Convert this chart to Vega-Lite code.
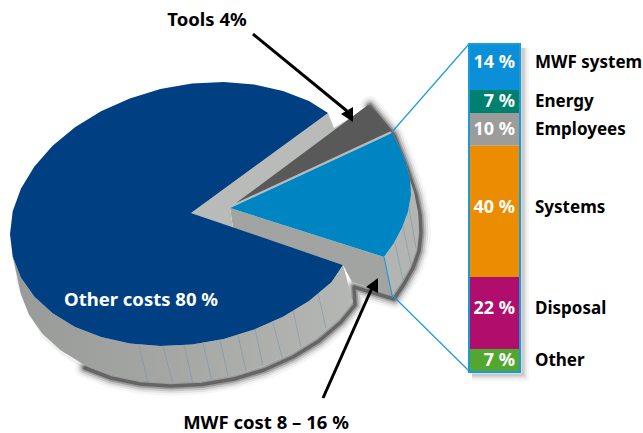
{
"$schema":"https://vega.github.io/schema/vega-lite/v6.json",
"width":643,"height":433,"padding":0,"autosize":{"type":"fit","contains":"padding"},
"background":"white","view":{"stroke":null},
"datasets":{
"shadow":[{"o":0,"x":85,"y":368},{"o":1,"x":111,"y":378},{"o":2,"x":140,"y":384},{"o":3,"x":170,"y":386},{"o":4,"x":202,"y":384.5},{"o":5,"x":234,"y":379},{"o":6,"x":264,"y":370},{"o":7,"x":293,"y":357},{"o":8,"x":319,"y":341},{"o":9,"x":341,"y":322},{"o":10,"x":355,"y":305},{"o":11,"x":354,"y":287},{"o":12,"x":394,"y":299},{"o":13,"x":404,"y":284},{"o":14,"x":413,"y":268},{"o":15,"x":419,"y":251},{"o":16,"x":421,"y":233},{"o":17,"x":420,"y":215},{"o":18,"x":416,"y":195},{"o":19,"x":407,"y":168},{"o":20,"x":394,"y":135},{"o":21,"x":370,"y":106}],
"softshadow":[{"o":0,"x":18,"y":280},{"o":1,"x":28,"y":306},{"o":2,"x":44,"y":336},{"o":3,"x":63,"y":353},{"o":4,"x":85,"y":367}],
"barshadow":[{"o":0,"x":523,"y":48},{"o":1,"x":523,"y":375},{"o":2,"x":472,"y":375}],
"wall":[{"o":0,"x":230,"y":208},{"o":1,"x":384,"y":257},{"o":2,"x":392,"y":295},{"o":3,"x":352,"y":282},{"o":4,"x":343,"y":265},{"o":5,"x":233,"y":228}],
"rim":[{"o":0,"x":12.7,"y":256.7},{"o":1,"x":21,"y":277.7},{"o":2,"x":34.4,"y":296.8},{"o":3,"x":52.6,"y":313.3},{"o":4,"x":75,"y":327},{"o":5,"x":101,"y":337},{"o":6,"x":129.8,"y":343.4},{"o":7,"x":160.3,"y":345.9},{"o":8,"x":192,"y":344.4},{"o":9,"x":223.7,"y":338.9},{"o":10,"x":254.2,"y":329.6},{"o":11,"x":283,"y":316.8},{"o":12,"x":309,"y":300.9},{"o":13,"x":331.4,"y":282.3},{"o":14,"x":343,"y":265},{"o":15,"x":353,"y":302},{"o":16,"x":339.4,"y":319.3},{"o":17,"x":317,"y":337.9},{"o":18,"x":291,"y":353.8},{"o":19,"x":262.2,"y":366.6},{"o":20,"x":231.7,"y":375.9},{"o":21,"x":200,"y":381.4},{"o":22,"x":168.3,"y":382.9},{"o":23,"x":137.8,"y":380.4},{"o":24,"x":109,"y":374},{"o":25,"x":83,"y":364},{"o":26,"x":60.6,"y":350.3},{"o":27,"x":42.4,"y":333.8},{"o":28,"x":29,"y":314.7},{"o":29,"x":20.7,"y":293.7}],
"rimsmall":[{"o":0,"x":392,"y":133},{"o":1,"x":400,"y":148},{"o":2,"x":406,"y":163},{"o":3,"x":410,"y":180},{"o":4,"x":411,"y":195},{"o":5,"x":408,"y":212},{"o":6,"x":402,"y":228},{"o":7,"x":394,"y":243},{"o":8,"x":384,"y":257},{"o":9,"x":392,"y":295},{"o":10,"x":402,"y":281},{"o":11,"x":411,"y":265},{"o":12,"x":417,"y":248},{"o":13,"x":419,"y":230},{"o":14,"x":418,"y":212},{"o":15,"x":414,"y":192},{"o":16,"x":405,"y":165}],
"tops":[
{"s":"light","o":0,"x":191,"y":213},{"s":"light","o":1,"x":328,"y":113},{"s":"light","o":2,"x":334,"y":128},{"s":"light","o":3,"x":366,"y":108},{"s":"light","o":4,"x":392,"y":133},{"s":"light","o":5,"x":230,"y":208},{"s":"light","o":6,"x":233,"y":228},
{"s":"main","o":0,"x":191,"y":213},{"s":"main","o":1,"x":328,"y":113},{"s":"main","o":2,"x":309,"y":101.1},{"s":"main","o":3,"x":283,"y":90.9},{"s":"main","o":4,"x":254.2,"y":84.6},{"s":"main","o":5,"x":223.7,"y":82.1},{"s":"main","o":6,"x":192,"y":83.6},{"s":"main","o":7,"x":160.3,"y":89.1},{"s":"main","o":8,"x":129.8,"y":98.4},{"s":"main","o":9,"x":101,"y":111.2},{"s":"main","o":10,"x":75,"y":127.2},{"s":"main","o":11,"x":52.6,"y":145.7},{"s":"main","o":12,"x":34.4,"y":166.4},{"s":"main","o":13,"x":21,"y":188.5},{"s":"main","o":14,"x":12.7,"y":211.3},{"s":"main","o":15,"x":10,"y":234.3},{"s":"main","o":16,"x":12.7,"y":256.7},{"s":"main","o":17,"x":21,"y":277.7},{"s":"main","o":18,"x":34.4,"y":296.8},{"s":"main","o":19,"x":52.6,"y":313.3},{"s":"main","o":20,"x":75,"y":327},{"s":"main","o":21,"x":101,"y":337},{"s":"main","o":22,"x":129.8,"y":343.4},{"s":"main","o":23,"x":160.3,"y":345.9},{"s":"main","o":24,"x":192,"y":344.4},{"s":"main","o":25,"x":223.7,"y":338.9},{"s":"main","o":26,"x":254.2,"y":329.6},{"s":"main","o":27,"x":283,"y":316.8},{"s":"main","o":28,"x":309,"y":300.9},{"s":"main","o":29,"x":331.4,"y":282.3},{"s":"main","o":30,"x":343,"y":265},
{"s":"mwf","o":0,"x":230,"y":208},{"s":"mwf","o":1,"x":392,"y":133},{"s":"mwf","o":2,"x":400,"y":148},{"s":"mwf","o":3,"x":406,"y":163},{"s":"mwf","o":4,"x":410,"y":180},{"s":"mwf","o":5,"x":411,"y":195},{"s":"mwf","o":6,"x":408,"y":212},{"s":"mwf","o":7,"x":402,"y":228},{"s":"mwf","o":8,"x":394,"y":243},{"s":"mwf","o":9,"x":384,"y":257},
{"s":"tools","o":0,"x":236,"y":203},{"s":"tools","o":1,"x":368,"y":105},{"s":"tools","o":2,"x":381,"y":118},{"s":"tools","o":3,"x":391,"y":131},
{"s":"head1","o":0,"x":353,"y":122},{"s":"head1","o":1,"x":353,"y":107},{"s":"head1","o":2,"x":341,"y":114},
{"s":"head2","o":0,"x":378,"y":278},{"s":"head2","o":1,"x":366,"y":287},{"s":"head2","o":2,"x":378,"y":293}],
"ticks":[{"x":139.3,"y":346.7,"x2":148,"y2":383},{"x":163,"y":346,"x2":172.7,"y2":383},{"x":184,"y":345,"x2":192.7,"y2":383},{"x":203,"y":343,"x2":211.7,"y2":380},{"x":220,"y":340,"x2":228,"y2":376},{"x":238,"y":335,"x2":246,"y2":371},{"x":255,"y":329,"x2":263,"y2":366},{"x":273,"y":323,"x2":282,"y2":357},{"x":293,"y":310,"x2":301,"y2":347},{"x":318,"y":293,"x2":326,"y2":328},{"x":395,"y":243,"x2":403,"y2":280},{"x":403,"y":226,"x2":411,"y2":265},{"x":409,"y":208,"x2":416,"y2":248}],
"leaders":[{"x":392,"y":132,"x2":469,"y2":44},{"x":384,"y":257,"x2":392,"y2":295},{"x":392,"y":295,"x2":469,"y2":371}],
"arrows":[{"x":253,"y":34,"x2":347,"y2":111},{"x":323,"y":398,"x2":372,"y2":288}],
"notes":[{"t":"Tools 4%","x":207,"y":20,"c":"black"},{"t":"MWF cost 8 – 16 %","x":266,"y":423,"c":"black"},{"t":"Other costs 80 %","x":141,"y":300,"c":"white"}],
"stackrows":[{"i":0,"c":"bar","name":"MWF system","value":14,"pct":"14 %","group":"a"},{"i":1,"c":"bar","name":"Energy","value":7,"pct":"7 %","group":"b"},{"i":2,"c":"bar","name":"Employees","value":10,"pct":"10 %","group":"b"},{"i":3,"c":"bar","name":"Systems","value":40,"pct":"40 %","group":"a"},{"i":4,"c":"bar","name":"Disposal","value":22,"pct":"22 %","group":"a"},{"i":5,"c":"bar","name":"Other","value":7,"pct":"7 %","group":"b"}]
},
"encoding":{
"x":{"field":"x","type":"quantitative","axis":null,"scale":{"domain":[0,643],"range":[0,643],"nice":false,"zero":false}},
"y":{"field":"y","type":"quantitative","axis":null,"scale":{"domain":[0,433],"range":[0,433],"nice":false,"zero":false}},
"order":{"field":"o"}
},
"layer":[
{"data":{"name":"softshadow"},"mark":{"type":"line","stroke":"black","strokeWidth":5,"opacity":0.06,"strokeCap":"round","strokeJoin":"round"}},
{"data":{"name":"shadow"},"mark":{"type":"line","stroke":"black","strokeWidth":20,"opacity":0.04,"strokeJoin":"round","strokeCap":"round"}},
{"data":{"name":"shadow"},"mark":{"type":"line","stroke":"black","strokeWidth":15,"opacity":0.07,"strokeJoin":"round","strokeCap":"round"}},
{"data":{"name":"shadow"},"mark":{"type":"line","stroke":"black","strokeWidth":11,"opacity":0.12,"strokeJoin":"round","strokeCap":"round"}},
{"data":{"name":"shadow"},"mark":{"type":"line","stroke":"black","strokeWidth":7,"opacity":0.22,"strokeJoin":"round","strokeCap":"round"}},
{"data":{"name":"shadow"},"mark":{"type":"line","stroke":"black","strokeWidth":3.5,"opacity":0.35,"strokeJoin":"round","strokeCap":"round"}},
{"data":{"name":"barshadow"},"mark":{"type":"line","stroke":"black","strokeWidth":12,"opacity":0.04}},
{"data":{"name":"barshadow"},"mark":{"type":"line","stroke":"black","strokeWidth":7,"opacity":0.07}},
{"data":{"name":"barshadow"},"mark":{"type":"line","stroke":"black","strokeWidth":3,"opacity":0.1}},
{"data":{"name":"wall"},"mark":{"type":"line","filled":true,"fill":"#a2a4a2","stroke":null}},
{"data":{"name":"rim"},"mark":{"type":"line","filled":true,"stroke":null,"fill":{"gradient":"linear","x1":0,"y1":0,"x2":1,"y2":0,"stops":[{"offset":0,"color":"#999b99"},{"offset":0.4,"color":"#a3a5a3"},{"offset":1,"color":"#b5b7b5"}]}}},
{"data":{"name":"rimsmall"},"mark":{"type":"line","filled":true,"fill":"#b3b5b3","stroke":null}},
{"data":{"name":"ticks"},"mark":{"type":"rule","stroke":"#6f8fa8","strokeWidth":0.6,"opacity":0.8},"encoding":{"x2":{"field":"x2"},"y2":{"field":"y2"},"order":null}},
{"data":{"name":"tops"},"mark":{"type":"line","filled":true,"stroke":null},"encoding":{"color":{"field":"s","type":"nominal","legend":null,"sort":null,"scale":{"domain":["light","main","mwf","tools","head1","head2"],"range":["#b9bbb9","#003f82","#0085c3","#595959","#000000","#000000"]}},"detail":{"field":"s"}}},
{"data":{"name":"leaders"},"mark":{"type":"rule","stroke":"#1a9ad6","strokeWidth":1.2},"encoding":{"x2":{"field":"x2"},"y2":{"field":"y2"},"order":null}},
{"data":{"name":"arrows"},"mark":{"type":"rule","stroke":"black","strokeWidth":3},"encoding":{"x2":{"field":"x2"},"y2":{"field":"y2"},"order":null}},
{"data":{"name":"notes"},"mark":{"type":"text","font":"Noto Sans","fontWeight":"bold","fontSize":18.5,"align":"center","baseline":"middle"},"encoding":{"text":{"field":"t"},"color":{"field":"c","type":"nominal","scale":null,"legend":null},"order":null}},
{"data":{"name":"stackrows"},
"transform":[{"stack":"value","sort":[{"field":"i"}],"groupby":["c"],"as":["v0","v1"]},{"calculate":"(datum.v0+datum.v1)/2","as":"mid"}],
"encoding":{
"x":{"field":"c","type":"nominal","axis":null,"scale":{"type":"band","domain":["bar"],"range":[469,520],"paddingInner":0,"paddingOuter":0}},
"y":{"field":"mid","type":"quantitative","axis":null,"scale":{"domain":[0,100],"range":[44,372],"nice":false,"zero":false}},
"order":null},
"layer":[
{"mark":{"type":"bar"},"encoding":{"y":{"field":"v0","type":"quantitative"},"y2":{"field":"v1"},"color":{"field":"name","type":"nominal","legend":null,"scale":{"domain":["MWF system","Energy","Employees","Systems","Disposal","Other"],"range":["#0a8fd8","#00806f","#9c9d9b","#ec8c00","#b00d6d","#53a62f"]}}}},
{"transform":[{"aggregate":[{"op":"min","field":"v0","as":"lo"},{"op":"max","field":"v1","as":"hi"}],"groupby":["c"]}],"mark":{"type":"bar","filled":false,"stroke":"#1a9ad6","strokeWidth":2},"encoding":{"y":{"field":"lo","type":"quantitative"},"y2":{"field":"hi"}}},
{"transform":[{"filter":"datum.group=='a'"}],"mark":{"type":"text","font":"Noto Sans","fontWeight":"bold","fontSize":18,"color":"white","align":"right","baseline":"middle","dx":20.5,"dy":-3.5},"encoding":{"text":{"field":"pct"}}},
{"transform":[{"filter":"datum.group=='b'"}],"mark":{"type":"text","font":"Noto Sans","fontWeight":"bold","fontSize":18,"color":"white","align":"right","baseline":"middle","dx":20.5,"dy":0.5},"encoding":{"text":{"field":"pct"}}},
{"transform":[{"filter":"datum.group=='a'"}],"mark":{"type":"text","font":"Noto Sans","fontWeight":"bold","fontSize":17,"color":"black","align":"left","baseline":"middle","dx":40.5,"dy":-3.5},"encoding":{"text":{"field":"name"}}},
{"transform":[{"filter":"datum.group=='b'"}],"mark":{"type":"text","font":"Noto Sans","fontWeight":"bold","fontSize":17,"color":"black","align":"left","baseline":"middle","dx":40.5,"dy":0.5},"encoding":{"text":{"field":"name"}}}
],
"resolve":{"scale":{"color":"independent"}}
}
],
"resolve":{"scale":{"x":"independent","y":"independent","color":"independent"}}
}
